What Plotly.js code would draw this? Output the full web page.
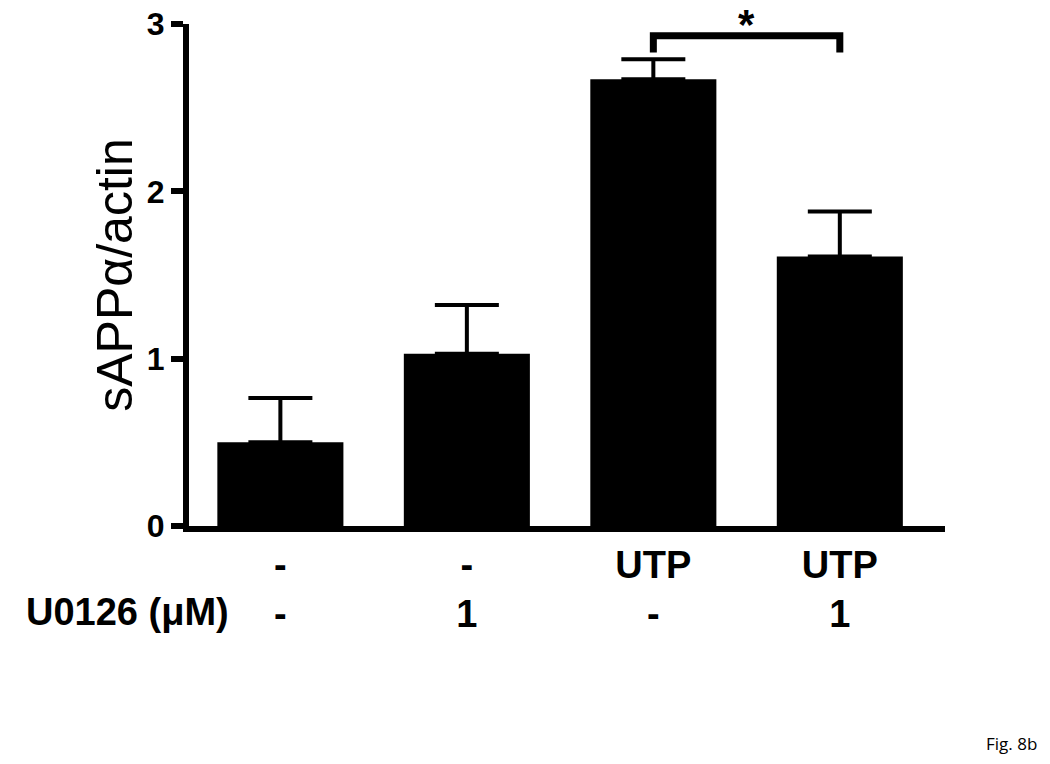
<!DOCTYPE html>
<html>
<head>
<meta charset="utf-8">
<script src="https://cdn.plot.ly/plotly-3.0.1.min.js"></script>
<style>
  body { margin: 0; background: #fff; }
  #chart { width: 1050px; height: 764px; }
</style>
</head>
<body>
<div id="chart"></div>
<script>
// values
const groups = [0, 1, 2, 3];
const utpRow = ['-', '-', 'UTP', 'UTP'];
const u0126Row = ['-', '1', '-', '1'];
const means = [0.50, 1.03, 2.67, 1.61];
const sems = [0.265, 0.29, 0.12, 0.27];
const yTicks = [0, 1, 2, 3];

// significance bracket between UTP and UTP + U0126
const sigPair = [2, 3];
const sigTop = 2.93;
const sigFoot = 2.83;

const tickLabels = groups.map((g, i) => utpRow[i] + '<br>' + u0126Row[i]);

const barTrace = {
    x: groups,
    y: means,
    type: 'bar',
    marker: { color: '#000', line: { width: 0 } },
    error_y: {
        type: 'data',
        array: sems,
        arrayminus: groups.map(() => 0),
        symmetric: false,
        color: '#000',
        thickness: 4,
        width: 32
    },
    hoverinfo: 'none'
};

const layout = {
    width: 1050,
    height: 764,
    margin: { l: 189, r: 105, t: 24, b: 238 },
    paper_bgcolor: '#fff',
    plot_bgcolor: '#fff',
    showlegend: false,
    bargap: 0.324,
    font: { family: 'Liberation Sans, Arial, sans-serif', color: '#000' },
    xaxis: {
        range: [-0.49, 3.564],
        tickmode: 'array',
        tickvals: groups,
        ticktext: tickLabels,
        tickfont: { size: 38, weight: 'bold' },
        showline: true,
        linewidth: 6,
        linecolor: '#000',
        ticks: '',
        showgrid: false,
        zeroline: false,
        ticklabelstandoff: 0
    },
    yaxis: {
        range: [0, 3],
        tickmode: 'array',
        tickvals: yTicks,
        ticktext: yTicks.map(String),
        tickfont: { size: 32, weight: 'bold' },
        showline: true,
        linewidth: 6,
        linecolor: '#000',
        ticks: 'outside',
        ticklen: 12,
        tickwidth: 6,
        tickcolor: '#000',
        showgrid: false,
        zeroline: false,
        title: {
            text: 'sAPPα/actin',
            font: { size: 50 },
            standoff: 0
        }
    },
    shapes: [{
        type: 'path',
        xref: 'x',
        yref: 'y',
        path: 'M ' + sigPair[0] + ',' + sigFoot + ' L ' + sigPair[0] + ',' + sigTop +
              ' L ' + sigPair[1] + ',' + sigTop + ' L ' + sigPair[1] + ',' + sigFoot,
        line: { color: '#000', width: 7 }
    }],
    annotations: [
        {
            // significance star
            x: (sigPair[0] + sigPair[1]) / 2,
            y: sigTop,
            xref: 'x',
            yref: 'y',
            text: '*',
            showarrow: false,
            yanchor: 'bottom',
            font: { size: 42, weight: 'bold' },
            yshift: -14
        },
        {
            // row label for the second line of x tick labels
            x: 0,
            y: 0,
            xref: 'paper',
            yref: 'paper',
            xanchor: 'right',
            yanchor: 'middle',
            xshift: 42,
            yshift: -86,
            text: 'U0126 (μM)',
            showarrow: false,
            font: { size: 38, weight: 'bold' }
        },
        {
            x: 1,
            y: 0,
            xref: 'paper',
            yref: 'paper',
            xanchor: 'right',
            yanchor: 'middle',
            xshift: 94,
            yshift: -217,
            text: 'Fig. 8b',
            showarrow: false,
            font: { size: 17, family: 'Open Sans, sans-serif' }
        }
    ]
};

Plotly.newPlot('chart', [barTrace], layout, { displayModeBar: false, staticPlot: true });
</script>
</body>
</html>
